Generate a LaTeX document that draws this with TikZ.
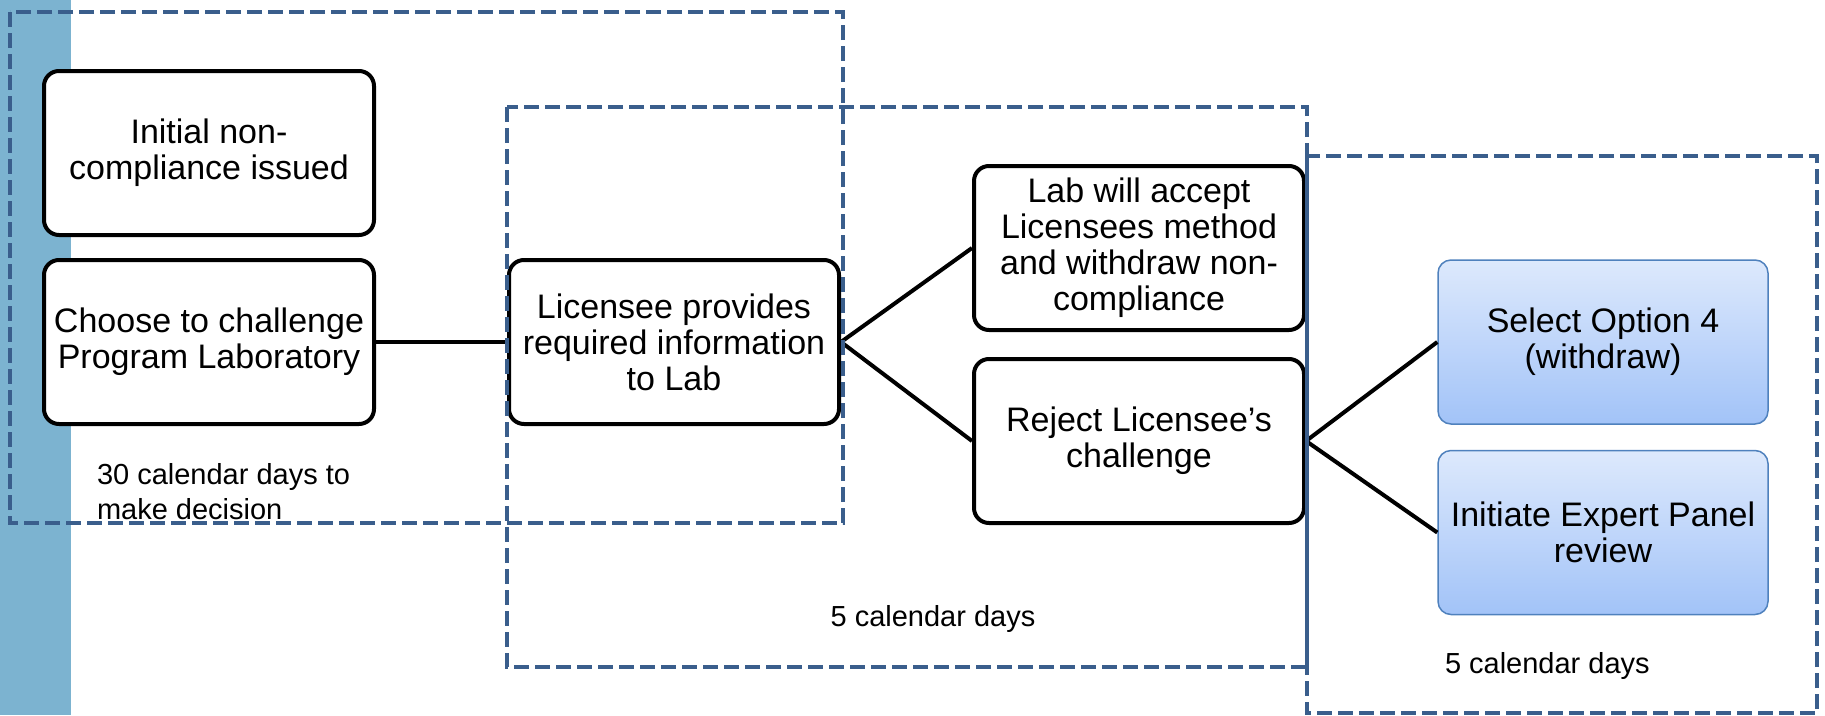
\documentclass[tikz,border=0pt]{standalone}
\usepackage{fontspec}
\setmainfont{Liberation Sans}
\usetikzlibrary{positioning}

\definecolor{barblue}{RGB}{124,179,208}
\definecolor{dashblue}{RGB}{58,94,140}
\definecolor{optop}{RGB}{221,233,252}
\definecolor{opbot}{RGB}{162,195,248}
\definecolor{opline}{RGB}{79,129,189}

\begin{document}
\begin{tikzpicture} [x=1pt,y=-1pt,line width=4pt,
    plain/.style={draw,fill=white,rounded corners=15pt,align=center,inner sep=2pt,
      minimum width=330pt,minimum height=164pt,font=\fontsize{34}{36}\selectfont},
    option/.style={plain,draw=opline,line width=1.5pt,rounded corners=13pt,
      top color=optop,bottom color=opbot},
    frame/.style={draw=dashblue,line width=4pt,dash pattern=on 15pt off 6pt},
    days/.style={inner sep=0pt,align=left,font=\fontsize{29}{35}\selectfont}]

  \useasboundingbox (0,0) rectangle (1825,715);
  \fill[barblue] (0,0) rectangle (71,715);

  \node[plain] (2) at (209,342) {Choose to challenge\\Program Laboratory};
  \node[plain] (1) [above=21pt of 2] {Initial non-\\compliance issued};
  \node[plain] (3) at (674,342) {Licensee provides\\required information\\to Lab};
  \node[plain] (4) at (1139,248) {Lab will accept\\Licensees method\\and withdraw non-\\compliance};
  \node[plain] (5) [below=25pt of 4] {Reject Licensee’s\\challenge};
  \node[option] (6) at (1603,342) {Select Option 4\\(withdraw)};
  \node[option] (7) [below=25pt of 6] {Initiate Expert Panel\\review};

  \path[draw]
    (2) edge (3)
    (3.east) edge (4.west)
             edge (5.west)
    (5.east) edge (6.west)
             edge (7.west);

  % time frames
  \draw[frame] (10,12) rectangle (843,523);
  \draw[frame] (507,107) rectangle (1307,667);
  \draw[frame] (1307,156) rectangle (1817,713);

  \node[days,anchor=north west] (d30) at (95,461) {30 calendar days to\\make decision};
  \node[days,anchor=base] (d5a) at (933,626) {5 calendar days};
  \node[days,anchor=base west] (d5b) at (1443,673) {5 calendar days};

\end{tikzpicture}
\end{document}
